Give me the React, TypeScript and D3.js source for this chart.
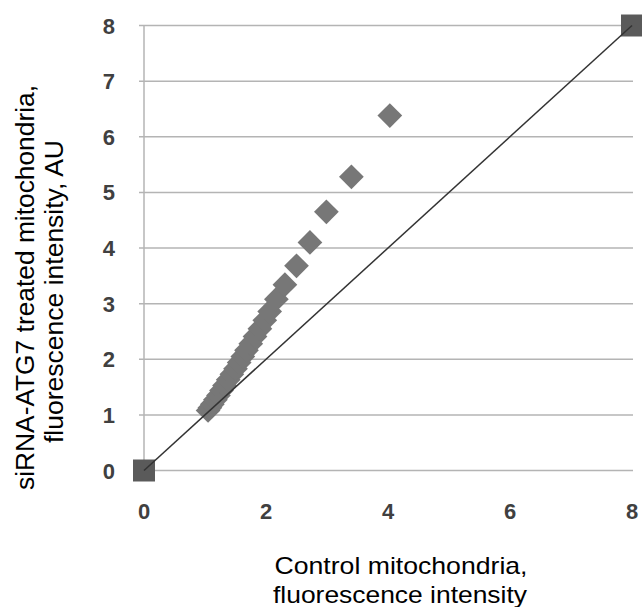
import React from "react";
import * as d3 from "d3";

// Treated vs control fluorescence intensity, paired measurements
const controlValues = [1.05, 1.08, 1.12, 1.17, 1.22, 1.27, 1.32, 1.38, 1.44, 1.5, 1.56, 1.62, 1.68, 1.75, 1.82, 1.9, 1.98, 2.06, 2.17, 2.31, 2.5, 2.72, 2.99, 3.4, 4.03];
const treatedValues = [1.08, 1.13, 1.19, 1.27, 1.35, 1.44, 1.53, 1.63, 1.73, 1.83, 1.94, 2.05, 2.16, 2.28, 2.41, 2.55, 2.7, 2.86, 3.08, 3.34, 3.68, 4.1, 4.65, 5.28, 6.38];

// Identity reference line endpoints (x = y)
const identityX = [0, 8];
const identityY = [0, 8];

const yTicks = [0, 1, 2, 3, 4, 5, 6, 7, 8];
const xTicks = [0, 2, 4, 6, 8];

const W = 642;
const H = 607;

export default function App() {
  const x = d3.scaleLinear().domain([0, 8]).range([144, 632]);
  const y = d3.scaleLinear().domain([0, 8]).range([470.5, 25.5]);

  const diamond = d3.symbol().type(d3.symbolSquare).size(17.5 * 17.5)() as string;
  const square = d3.symbol().type(d3.symbolSquare).size(22 * 22)() as string;
  const line = d3
    .line<number>()
    .x((_, i) => x(identityX[i]))
    .y((_, i) => y(identityY[i]))(identityX) as string;

  const font = "'Liberation Sans', Arial, sans-serif";

  return (
    <svg
      width={W}
      height={H}
      style={{ position: "absolute", left: 0, top: 0, background: "#fff" }}
      fontFamily={font}
    >
      {/* horizontal gridlines with small outside ticks */}
      {yTicks.map((t) => (
        <line key={"g" + t} x1={x(0) - 5} x2={633} y1={y(t)} y2={y(t)} stroke="#b4b4b4" strokeWidth={1.5} />
      ))}
      {/* vertical axis */}
      <line x1={x(0)} x2={x(0)} y1={y(8)} y2={y(0)} stroke="#b4b4b4" strokeWidth={1.5} />

      {/* y tick labels */}
      {yTicks.map((t) => (
        <text key={"yl" + t} x={115} y={y(t) + 8} textAnchor="end" fontSize={22} fontWeight="bold" fill="#404040">
          {t}
        </text>
      ))}
      {/* x tick labels */}
      {xTicks.map((t) => (
        <text key={"xl" + t} x={x(t)} y={519} textAnchor="middle" fontSize={22} fontWeight="bold" fill="#404040">
          {t}
        </text>
      ))}

      {/* data points */}
      {controlValues.map((cv, i) => (
        <path
          key={"p" + i}
          d={diamond}
          transform={`translate(${x(cv)},${y(treatedValues[i])}) rotate(45)`}
          fill="#777777"
        />
      ))}

      {/* identity markers and line */}
      {identityX.map((v, i) => (
        <path key={"s" + i} d={square} transform={`translate(${x(v)},${y(identityY[i])})`} fill="#5a5a5a" />
      ))}
      <path d={line} stroke="#333" strokeWidth={1.5} fill="none" />

      {/* axis titles */}
      <text x={401} y={574} textAnchor="middle" fontSize={24} fill="#000" textLength={253} lengthAdjust="spacingAndGlyphs">
        Control mitochondria,
      </text>
      <text x={400} y={603} textAnchor="middle" fontSize={24} fill="#000" textLength={254} lengthAdjust="spacingAndGlyphs">
        fluorescence intensity
      </text>
      <text
        transform="translate(34,287.5) rotate(-90)"
        textAnchor="middle"
        fontSize={25}
        fill="#000"
        textLength={405}
        lengthAdjust="spacingAndGlyphs"
      >
        siRNA-ATG7 treated mitochondria,
      </text>
      <text
        transform="translate(63,291.5) rotate(-90)"
        textAnchor="middle"
        fontSize={25}
        fill="#000"
        textLength={303}
        lengthAdjust="spacingAndGlyphs"
      >
        fluorescence intensity, AU
      </text>
    </svg>
  );
}
